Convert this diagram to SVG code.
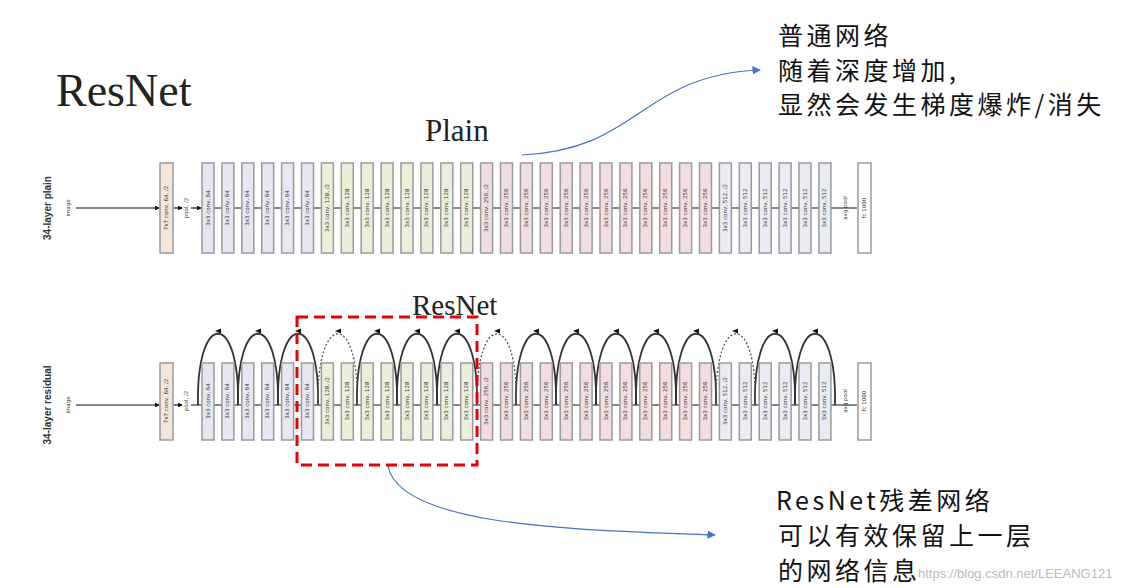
<svg xmlns="http://www.w3.org/2000/svg" width="1147" height="588" viewBox="0 0 1147 588">
<defs>
<marker id="ah" viewBox="0 0 6 6" refX="5" refY="3" markerWidth="4" markerHeight="4" orient="auto"><path d="M0,0L6,3L0,6z" fill="#111"/></marker>
<marker id="bh" viewBox="0 0 10 10" refX="9" refY="5" markerWidth="7" markerHeight="7" orient="auto"><path d="M0,0L10,5L0,10z" fill="#4472c4"/></marker>
<style>
.b{stroke:#9a9a9a;stroke-width:1.5}
.p0{fill:#f6e5d9}.p1{fill:#e8e6f3}.p2{fill:#ebefda}.p3{fill:#f3dde0}.p4{fill:#e9ecf3}.p5{fill:#fff}
.t{font-family:"DejaVu Sans",sans-serif;font-size:5.5px;fill:#333;text-anchor:middle;dominant-baseline:middle}
.ln{stroke:#111;stroke-width:1.2;fill:none;marker-end:url(#ah)}
.arc{stroke:#333;stroke-width:1.8;fill:none}
.dash{stroke:#555;stroke-width:1.3;stroke-dasharray:2,2;fill:none}
.serif{font-family:"Liberation Serif","Times New Roman",serif;fill:#222}
.cn{font-family:"Noto Sans CJK SC",sans-serif;font-size:25px;letter-spacing:3.5px;fill:#111}
.side{font-family:"Liberation Sans",Arial,sans-serif;font-size:10px;fill:#333;text-anchor:middle}
</style>
</defs>
<rect width="1147" height="588" fill="#fff"/>
<text class="serif" x="56" y="106" font-size="46">ResNet</text>
<text class="serif" x="425" y="141" font-size="31">Plain</text>
<text class="serif" x="412" y="315" font-size="29">ResNet</text>
<g id="connectors">
<path stroke="#111" stroke-width="1" fill="none" d="M214,208h8M233.9,208h8M253.8,208h8M273.7,208h8M293.6,208h8M313.5,208h8M333.4,208h8M353.3,208h8M373.2,208h8M393.1,208h8M413,208h8M432.9,208h8M452.8,208h8M472.7,208h8M492.6,208h8M512.5,208h8M532.4,208h8M552.3,208h8M572.2,208h8M592.1,208h8M612,208h8M631.9,208h8M651.8,208h8M671.7,208h8M691.6,208h8M711.5,208h8M731.4,208h8M751.3,208h8M771.2,208h8M791.1,208h8M811,208h8M830.9,208h26"/>
<path stroke="#111" stroke-width="1" fill="none" d="M191,405h11M214,405h8M233.9,405h8M253.8,405h8M273.7,405h8M293.6,405h8M313.5,405h8M333.4,405h8M353.3,405h8M373.2,405h8M393.1,405h8M413,405h8M432.9,405h8M452.8,405h8M472.7,405h8M492.6,405h8M512.5,405h8M532.4,405h8M552.3,405h8M572.2,405h8M592.1,405h8M612,405h8M631.9,405h8M651.8,405h8M671.7,405h8M691.6,405h8M711.5,405h8M731.4,405h8M751.3,405h8M771.2,405h8M791.1,405h8M811,405h8M830.9,405h26"/>
<g class="arc">
<path d="M198,405C196,310 240,310 238,405"/>
<path d="M238,405C236,310 280,310 278,405"/>
<path d="M278,405C276,310 320,310 318,405"/>
<path d="M357,405C355,310 399,310 397,405"/>
<path d="M397,405C395,310 439,310 437,405"/>
<path d="M437,405C435,310 479,310 477,405"/>
<path d="M516,405C514,310 558,310 556,405"/>
<path d="M556,405C554,310 598,310 596,405"/>
<path d="M596,405C594,310 638,310 636,405"/>
<path d="M636,405C634,310 678,310 676,405"/>
<path d="M676,405C674,310 718,310 716,405"/>
<path d="M755,405C753,310 797,310 795,405"/>
<path d="M795,405C793,310 837,310 835,405"/>
</g>
<g class="dash">
<path d="M318,405C316,310 360,310 357,405"/>
<path d="M477,405C475,310 519,310 516,405"/>
<path d="M716,405C714,310 758,310 755,405"/>
</g>
<g fill="#111">
<path d="M215,331l6,-2.5v5z"/><path d="M255,331l6,-2.5v5z"/><path d="M295,331l6,-2.5v5z"/><path d="M335,331l6,-2.5v5z"/><path d="M374,331l6,-2.5v5z"/><path d="M414,331l6,-2.5v5z"/><path d="M454,331l6,-2.5v5z"/><path d="M494,331l6,-2.5v5z"/><path d="M533,331l6,-2.5v5z"/><path d="M573,331l6,-2.5v5z"/><path d="M613,331l6,-2.5v5z"/><path d="M653,331l6,-2.5v5z"/><path d="M693,331l6,-2.5v5z"/><path d="M732,331l6,-2.5v5z"/><path d="M772,331l6,-2.5v5z"/><path d="M812,331l6,-2.5v5z"/>
</g>
<path d="M522,155C640,150 640,75 760,70" stroke="#4472c4" stroke-width="1.2" fill="none" marker-end="url(#bh)"/>
<path d="M388,466C400,530 600,530 715,535" stroke="#4472c4" stroke-width="1.2" fill="none" marker-end="url(#bh)"/>
</g>
<g id="plain">
<text class="side" transform="translate(51,208) rotate(-90)" font-weight="bold">34-layer plain</text>
<text class="t" transform="translate(68,208) rotate(-90)">image</text>
<line class="ln" x1="76" y1="208" x2="159" y2="208"/>
<rect class="b p0" x="160" y="163" width="13" height="90"/><text class="t" transform="translate(166.5,208) rotate(-90)">7x7 conv, 64, /2</text>
<line class="ln" x1="174" y1="208" x2="182" y2="208"/>
<text class="t" transform="translate(186,208) rotate(-90)">pool, /2</text>
<line class="ln" x1="191" y1="208" x2="201" y2="208"/>
<rect class="b p1" x="202" y="163" width="12" height="90"/><text class="t" transform="translate(208,208) rotate(-90)">3x3 conv, 64</text>
<rect class="b p1" x="221.9" y="163" width="12" height="90"/><text class="t" transform="translate(227.9,208) rotate(-90)">3x3 conv, 64</text>
<rect class="b p1" x="241.8" y="163" width="12" height="90"/><text class="t" transform="translate(247.8,208) rotate(-90)">3x3 conv, 64</text>
<rect class="b p1" x="261.7" y="163" width="12" height="90"/><text class="t" transform="translate(267.7,208) rotate(-90)">3x3 conv, 64</text>
<rect class="b p1" x="281.6" y="163" width="12" height="90"/><text class="t" transform="translate(287.6,208) rotate(-90)">3x3 conv, 64</text>
<rect class="b p1" x="301.5" y="163" width="12" height="90"/><text class="t" transform="translate(307.5,208) rotate(-90)">3x3 conv, 64</text>
<rect class="b p2" x="321.4" y="163" width="12" height="90"/><text class="t" transform="translate(327.4,208) rotate(-90)">3x3 conv, 128, /2</text>
<rect class="b p2" x="341.3" y="163" width="12" height="90"/><text class="t" transform="translate(347.3,208) rotate(-90)">3x3 conv, 128</text>
<rect class="b p2" x="361.2" y="163" width="12" height="90"/><text class="t" transform="translate(367.2,208) rotate(-90)">3x3 conv, 128</text>
<rect class="b p2" x="381.1" y="163" width="12" height="90"/><text class="t" transform="translate(387.1,208) rotate(-90)">3x3 conv, 128</text>
<rect class="b p2" x="401" y="163" width="12" height="90"/><text class="t" transform="translate(407,208) rotate(-90)">3x3 conv, 128</text>
<rect class="b p2" x="420.9" y="163" width="12" height="90"/><text class="t" transform="translate(426.9,208) rotate(-90)">3x3 conv, 128</text>
<rect class="b p2" x="440.8" y="163" width="12" height="90"/><text class="t" transform="translate(446.8,208) rotate(-90)">3x3 conv, 128</text>
<rect class="b p2" x="460.7" y="163" width="12" height="90"/><text class="t" transform="translate(466.7,208) rotate(-90)">3x3 conv, 128</text>
<rect class="b p3" x="480.6" y="163" width="12" height="90"/><text class="t" transform="translate(486.6,208) rotate(-90)">3x3 conv, 256, /2</text>
<rect class="b p3" x="500.5" y="163" width="12" height="90"/><text class="t" transform="translate(506.5,208) rotate(-90)">3x3 conv, 256</text>
<rect class="b p3" x="520.4" y="163" width="12" height="90"/><text class="t" transform="translate(526.4,208) rotate(-90)">3x3 conv, 256</text>
<rect class="b p3" x="540.3" y="163" width="12" height="90"/><text class="t" transform="translate(546.3,208) rotate(-90)">3x3 conv, 256</text>
<rect class="b p3" x="560.2" y="163" width="12" height="90"/><text class="t" transform="translate(566.2,208) rotate(-90)">3x3 conv, 256</text>
<rect class="b p3" x="580.1" y="163" width="12" height="90"/><text class="t" transform="translate(586.1,208) rotate(-90)">3x3 conv, 256</text>
<rect class="b p3" x="600" y="163" width="12" height="90"/><text class="t" transform="translate(606,208) rotate(-90)">3x3 conv, 256</text>
<rect class="b p3" x="619.9" y="163" width="12" height="90"/><text class="t" transform="translate(625.9,208) rotate(-90)">3x3 conv, 256</text>
<rect class="b p3" x="639.8" y="163" width="12" height="90"/><text class="t" transform="translate(645.8,208) rotate(-90)">3x3 conv, 256</text>
<rect class="b p3" x="659.7" y="163" width="12" height="90"/><text class="t" transform="translate(665.7,208) rotate(-90)">3x3 conv, 256</text>
<rect class="b p3" x="679.6" y="163" width="12" height="90"/><text class="t" transform="translate(685.6,208) rotate(-90)">3x3 conv, 256</text>
<rect class="b p3" x="699.5" y="163" width="12" height="90"/><text class="t" transform="translate(705.5,208) rotate(-90)">3x3 conv, 256</text>
<rect class="b p4" x="719.4" y="163" width="12" height="90"/><text class="t" transform="translate(725.4,208) rotate(-90)">3x3 conv, 512, /2</text>
<rect class="b p4" x="739.3" y="163" width="12" height="90"/><text class="t" transform="translate(745.3,208) rotate(-90)">3x3 conv, 512</text>
<rect class="b p4" x="759.2" y="163" width="12" height="90"/><text class="t" transform="translate(765.2,208) rotate(-90)">3x3 conv, 512</text>
<rect class="b p4" x="779.1" y="163" width="12" height="90"/><text class="t" transform="translate(785.1,208) rotate(-90)">3x3 conv, 512</text>
<rect class="b p4" x="799" y="163" width="12" height="90"/><text class="t" transform="translate(805,208) rotate(-90)">3x3 conv, 512</text>
<rect class="b p4" x="818.9" y="163" width="12" height="90"/><text class="t" transform="translate(824.9,208) rotate(-90)">3x3 conv, 512</text>
<text class="t" transform="translate(845,208) rotate(-90)">avg pool</text>
<rect class="b p5" x="858" y="163" width="13" height="90"/><text class="t" transform="translate(864.5,208) rotate(-90)">fc 1000</text>
</g>
<g id="residual">
<text class="side" transform="translate(51,405) rotate(-90)" font-weight="bold">34-layer residual</text>
<text class="t" transform="translate(68,405) rotate(-90)">image</text>
<line class="ln" x1="76" y1="405" x2="159" y2="405"/>
<rect class="b p0" x="160" y="363" width="13" height="77"/><text class="t" transform="translate(166.5,401) rotate(-90)">7x7 conv, 64, /2</text>
<line class="ln" x1="174" y1="405" x2="182" y2="405"/>
<text class="t" transform="translate(186,401) rotate(-90)">pool, /2</text>
<rect class="b p1" x="202" y="363" width="12" height="77"/><text class="t" transform="translate(208,401) rotate(-90)">3x3 conv, 64</text>
<rect class="b p1" x="221.9" y="363" width="12" height="77"/><text class="t" transform="translate(227.9,401) rotate(-90)">3x3 conv, 64</text>
<rect class="b p1" x="241.8" y="363" width="12" height="77"/><text class="t" transform="translate(247.8,401) rotate(-90)">3x3 conv, 64</text>
<rect class="b p1" x="261.7" y="363" width="12" height="77"/><text class="t" transform="translate(267.7,401) rotate(-90)">3x3 conv, 64</text>
<rect class="b p1" x="281.6" y="363" width="12" height="77"/><text class="t" transform="translate(287.6,401) rotate(-90)">3x3 conv, 64</text>
<rect class="b p1" x="301.5" y="363" width="12" height="77"/><text class="t" transform="translate(307.5,401) rotate(-90)">3x3 conv, 64</text>
<rect class="b p2" x="321.4" y="363" width="12" height="77"/><text class="t" transform="translate(327.4,401) rotate(-90)">3x3 conv, 128, /2</text>
<rect class="b p2" x="341.3" y="363" width="12" height="77"/><text class="t" transform="translate(347.3,401) rotate(-90)">3x3 conv, 128</text>
<rect class="b p2" x="361.2" y="363" width="12" height="77"/><text class="t" transform="translate(367.2,401) rotate(-90)">3x3 conv, 128</text>
<rect class="b p2" x="381.1" y="363" width="12" height="77"/><text class="t" transform="translate(387.1,401) rotate(-90)">3x3 conv, 128</text>
<rect class="b p2" x="401" y="363" width="12" height="77"/><text class="t" transform="translate(407,401) rotate(-90)">3x3 conv, 128</text>
<rect class="b p2" x="420.9" y="363" width="12" height="77"/><text class="t" transform="translate(426.9,401) rotate(-90)">3x3 conv, 128</text>
<rect class="b p2" x="440.8" y="363" width="12" height="77"/><text class="t" transform="translate(446.8,401) rotate(-90)">3x3 conv, 128</text>
<rect class="b p2" x="460.7" y="363" width="12" height="77"/><text class="t" transform="translate(466.7,401) rotate(-90)">3x3 conv, 128</text>
<rect class="b p3" x="480.6" y="363" width="12" height="77"/><text class="t" transform="translate(486.6,401) rotate(-90)">3x3 conv, 256, /2</text>
<rect class="b p3" x="500.5" y="363" width="12" height="77"/><text class="t" transform="translate(506.5,401) rotate(-90)">3x3 conv, 256</text>
<rect class="b p3" x="520.4" y="363" width="12" height="77"/><text class="t" transform="translate(526.4,401) rotate(-90)">3x3 conv, 256</text>
<rect class="b p3" x="540.3" y="363" width="12" height="77"/><text class="t" transform="translate(546.3,401) rotate(-90)">3x3 conv, 256</text>
<rect class="b p3" x="560.2" y="363" width="12" height="77"/><text class="t" transform="translate(566.2,401) rotate(-90)">3x3 conv, 256</text>
<rect class="b p3" x="580.1" y="363" width="12" height="77"/><text class="t" transform="translate(586.1,401) rotate(-90)">3x3 conv, 256</text>
<rect class="b p3" x="600" y="363" width="12" height="77"/><text class="t" transform="translate(606,401) rotate(-90)">3x3 conv, 256</text>
<rect class="b p3" x="619.9" y="363" width="12" height="77"/><text class="t" transform="translate(625.9,401) rotate(-90)">3x3 conv, 256</text>
<rect class="b p3" x="639.8" y="363" width="12" height="77"/><text class="t" transform="translate(645.8,401) rotate(-90)">3x3 conv, 256</text>
<rect class="b p3" x="659.7" y="363" width="12" height="77"/><text class="t" transform="translate(665.7,401) rotate(-90)">3x3 conv, 256</text>
<rect class="b p3" x="679.6" y="363" width="12" height="77"/><text class="t" transform="translate(685.6,401) rotate(-90)">3x3 conv, 256</text>
<rect class="b p3" x="699.5" y="363" width="12" height="77"/><text class="t" transform="translate(705.5,401) rotate(-90)">3x3 conv, 256</text>
<rect class="b p4" x="719.4" y="363" width="12" height="77"/><text class="t" transform="translate(725.4,401) rotate(-90)">3x3 conv, 512, /2</text>
<rect class="b p4" x="739.3" y="363" width="12" height="77"/><text class="t" transform="translate(745.3,401) rotate(-90)">3x3 conv, 512</text>
<rect class="b p4" x="759.2" y="363" width="12" height="77"/><text class="t" transform="translate(765.2,401) rotate(-90)">3x3 conv, 512</text>
<rect class="b p4" x="779.1" y="363" width="12" height="77"/><text class="t" transform="translate(785.1,401) rotate(-90)">3x3 conv, 512</text>
<rect class="b p4" x="799" y="363" width="12" height="77"/><text class="t" transform="translate(805,401) rotate(-90)">3x3 conv, 512</text>
<rect class="b p4" x="818.9" y="363" width="12" height="77"/><text class="t" transform="translate(824.9,401) rotate(-90)">3x3 conv, 512</text>
<text class="t" transform="translate(845,401) rotate(-90)">avg pool</text>
<rect class="b p5" x="858" y="363" width="13" height="77"/><text class="t" transform="translate(864.5,401) rotate(-90)">fc 1000</text>
</g>
<rect x="297" y="317" width="180" height="148" fill="none" stroke="#e8000b" stroke-width="3" stroke-dasharray="11,6"/>
<g id="notes">
<text class="cn" x="778" y="45">普通网络</text>
<text class="cn" x="778" y="80">随着深度增加,</text>
<text class="cn" x="778" y="114">显然会发生梯度爆炸/消失</text>
<text class="cn" x="776" y="510">ResNet残差网络</text>
<text class="cn" x="778" y="545">可以有效保留上一层</text>
<text class="cn" x="778" y="580">的网络信息</text>
<text x="918" y="578" font-family="Liberation Sans,Arial,sans-serif" font-size="13" fill="#bbb">https://blog.csdn.net/LEEANG121</text>
</g>
</svg>
